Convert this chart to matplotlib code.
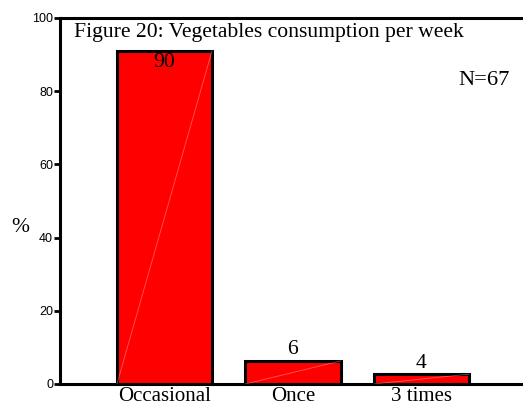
import matplotlib
matplotlib.use("Agg")
import matplotlib.pyplot as plt
import numpy as np

categories = ["Occasional", "Once", "3 times"]
heights = [91, 6.3, 2.7]
value_labels = ["90", "6", "4"]
title = "Figure 20: Vegetables consumption per week"
n_text = "N=67"
yticks = [0, 20, 40, 60, 80, 100]

W, H = 523, 405
fig = plt.figure(figsize=(W / 100, H / 100), dpi=100)
ax = fig.add_axes([60 / W, (H - 384) / H, 1 - 60 / W, (384 - 18) / H])

serif = "Liberation Serif"
fs = 15.6
x = np.arange(len(categories))
bw = 0.74
ax.bar(x, heights, width=bw, color="#ff0000", edgecolor="black", linewidth=2.2, zorder=2)
for xi, h in zip(x, heights):
    ax.plot([xi - bw / 2, xi + bw / 2], [0, h], color="white", lw=0.6, alpha=0.35, zorder=3)

offsets = [-16, 7, 6]
for xi, h, lab, off in zip(x, heights, value_labels, offsets):
    ax.annotate(lab, (xi, h), xytext=(0, off * 0.72), textcoords="offset points",
                ha="center", va="baseline", fontsize=fs, family=serif, zorder=4)

ax.set_xlim(-0.813, 2.79)
ax.set_ylim(0, 100)
ax.set_yticks(yticks)
ax.set_yticklabels([str(t) for t in yticks], fontsize=9, family="Liberation Sans")
ax.set_xticks(x)
ax.set_xticklabels(categories, fontsize=15, family=serif)
ax.tick_params(axis="x", length=0, pad=2.5)
ax.tick_params(axis="y", length=4, width=2, pad=1)

for s in ["left", "top", "bottom"]:
    ax.spines[s].set_linewidth(2.2)
ax.spines["right"].set_visible(False)

fig.text(74 / W, (H - 37) / H, title, fontsize=fs, family=serif, va="baseline", ha="left")
fig.text(458 / W, (H - 85) / H, n_text, fontsize=16.2, family=serif, va="baseline", ha="left")
fig.text(20 / W, (H - 228) / H, "%", fontsize=fs, family=serif, va="center", ha="center")

fig.savefig("out.png", dpi=100)
